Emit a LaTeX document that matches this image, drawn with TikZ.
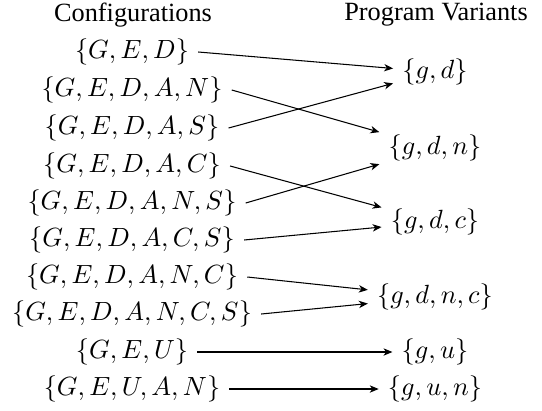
\documentclass[tikz,border=0pt]{standalone}
\usepackage{fontspec}
\setmainfont{Liberation Serif}
\usetikzlibrary{arrows.meta}
\tikzset{
  conf/.style={inner sep=3.33pt},
  variant/.style={inner sep=3.33pt},
  head/.style={inner sep=2pt, font=\rmfamily},
  maps/.style={-{Stealth[length=3.4pt,width=2.8pt,inset=1pt]}, line width=0.4pt}
}
\begin{document}
\begin{tikzpicture}[x=0.38pt,y=-0.38pt]
\useasboundingbox (0,0) rectangle (542,410);
% column headings
\node[head] (hc) at (133,15) {Configurations};
\node[head] (hv) at (436,15) {Program Variants};
% configurations
\node[conf] (c1)  at (132,52)  {$\{G,E,D\}$};
\node[conf] (c2)  at (132,90)  {$\{G,E,D,A,N\}$};
\node[conf] (c3)  at (132,128) {$\{G,E,D,A,S\}$};
\node[conf] (c4)  at (132,166) {$\{G,E,D,A,C\}$};
\node[conf] (c5)  at (132,203) {$\{G,E,D,A,N,S\}$};
\node[conf] (c6)  at (132,240) {$\{G,E,D,A,C,S\}$};
\node[conf] (c7)  at (132,277) {$\{G,E,D,A,N,C\}$};
\node[conf] (c8)  at (132,314) {$\{G,E,D,A,N,C,S\}$};
\node[conf] (c9)  at (132,352) {$\{G,E,U\}$};
\node[conf] (c10) at (132,389) {$\{G,E,U,A,N\}$};
% program variants
\node[variant] (v1) at (435,72)  {$\{g,d\}$};
\node[variant] (v2) at (435,148) {$\{g,d,n\}$};
\node[variant] (v3) at (435,222) {$\{g,d,c\}$};
\node[variant] (v4) at (435,297) {$\{g,d,n,c\}$};
\node[variant] (v5) at (435,352) {$\{g,u\}$};
\node[variant] (v6) at (435,389) {$\{g,u,n\}$};
% mapping: each configuration leaves from its east side
\draw[maps] (c1.east)  -- (v1);
\draw[maps] (c2.east)  -- (v2);
\draw[maps] (c3.east)  -- (v1);
\draw[maps] (c4.east)  -- (v3);
\draw[maps] (c5.east)  -- (v2);
\draw[maps] (c6.east)  -- (v3);
\draw[maps] (c7.east)  -- (v4);
\draw[maps] (c8.east)  -- (v4);
\draw[maps] (c9.east)  -- (v5);
\draw[maps] (c10.east) -- (v6);
\end{tikzpicture}
\end{document}
